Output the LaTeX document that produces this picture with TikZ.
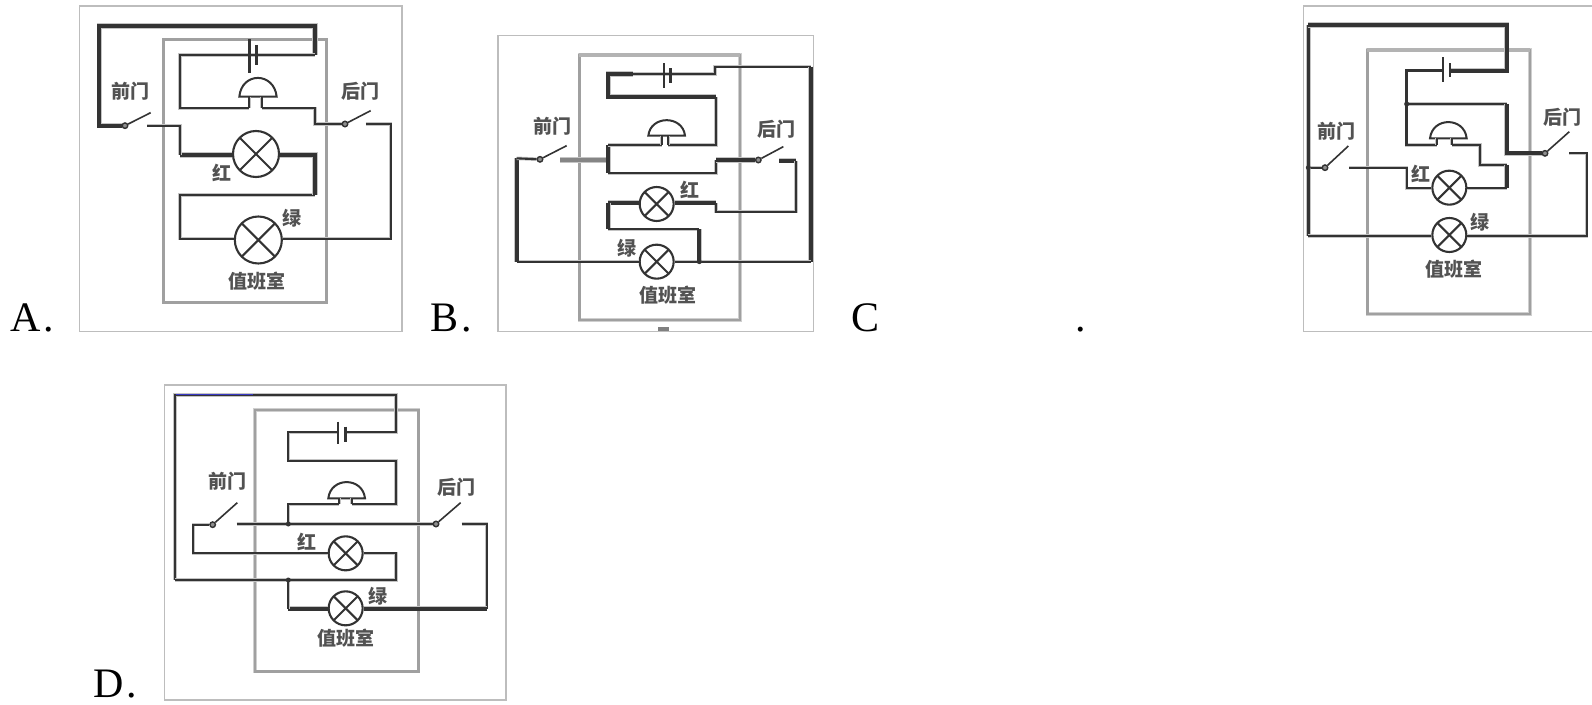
\documentclass[tikz,border=0pt]{standalone}
\usepackage{fontspec}
\setmainfont{Liberation Serif}
\newfontfamily\cjk{Noto Sans CJK SC}
\definecolor{ink}{HTML}{333333}
\definecolor{haze}{HTML}{C4C4C4}
\definecolor{roomc}{HTML}{A0A0A0}
\definecolor{framec}{HTML}{BDBDBD}
\tikzset{
  wire/.style={preaction={draw=haze,line width=3.6pt},draw=ink,line width=2.1pt,line join=miter},
  thick wire/.style={preaction={draw=haze,line width=5.4pt},draw=ink,line width=3.8pt,line join=miter},
  room/.style={preaction={draw=roomc!50,line width=3.6pt},draw=roomc,line width=2.4pt},
  frameb/.style={draw=framec,line width=1.1pt},
  blade/.style={draw=ink,line width=1.6pt},
  cell/.style={draw=ink,line width=2.6pt},
  dome/.style={draw=ink,line width=2pt,fill=white},
  pivot/.style={circle,draw=ink,fill=ink!55,line width=1.4pt,minimum size=5.5pt,inner sep=0pt},
  dot/.style={circle,fill=ink,minimum size=5pt,inner sep=0pt},
  biglamp/.style={lampbase,minimum size=46pt},
  smalllamp/.style={lampbase,minimum size=34pt},
  lampbase/.style={circle,draw=ink,line width=2.1pt,fill=white,inner sep=0pt,
    path picture={\draw[ink,line width=2.1pt]
      (path picture bounding box.north west)--(path picture bounding box.south east)
      (path picture bounding box.north east)--(path picture bounding box.south west);}},
  lab/.style={font=\cjk\bfseries\fontsize{19}{19}\selectfont,text=ink!85,inner sep=0pt},
  letter/.style={font=\fontsize{42}{42}\selectfont,text=black,inner sep=0pt,anchor=base west},
  panel/.style={x=0.33333pt,y=-0.33333pt}
}
\begin{document}
\begin{tikzpicture}[x=1pt,y=-1pt]
\useasboundingbox (0,0) rectangle (1592,704);
\fill[white] (0,0) rectangle (1592,704);
\node[letter] (la) at (10,331) {A\kern3pt.};
\node[letter] (lb) at (430,331) {B\kern3pt.};
\node[letter] (lc) at (851,331) {C};
\node[letter] (lcd) at (1075,331) {.};
\node[letter] (ld) at (93,697) {D\kern3pt.};

% ---------- A
\begin{scope}[shift={(0pt,0pt)},panel]
\draw[frameb] (238,18) rectangle (1206,995);
\draw[room] (490,118) rectangle (980,908);
\node[biglamp] (Ar) at (768,462) {};
\node[biglamp,minimum size=47pt] (Ag) at (775,720) {};
\node[pivot] (Asl) at (375,377) {};
\node[pivot] (Asr) at (1035,372) {};
\coordinate (Acl) at (442,377);
\coordinate (Acr) at (1098,372);
\coordinate (Ap1) at (748,325);
\coordinate (Ap2) at (785,325);
\draw[thick wire] (Asl) -- (298,377) -- (298,78) -- (945,78) -- (945,165);
\draw[wire] (945,165) -- (540,165) -- (540,325) -- (Ap1);
\draw[wire] (Ap2) -- (945,325) -- (945,372) -- (Asr);
\draw[wire] (Acr) -- (1172,372) -- (1172,716) -- (Ag.east |- 0,716);
\draw[wire] (Ag.west |- 0,716) -- (540,716) -- (540,585) -- (945,585);
\draw[thick wire] (945,585) -- (945,465) -- (Ar.east |- 0,465);
\draw[thick wire] (Ar.west |- 0,465) -- (540,465);
\draw[wire] (540,465) -- (540,377) -- (Acl);
\draw[blade] (Asl) -- (452,338);
\draw[blade] (Asr) -- (1112,332);
\draw[cell] (748,118) -- (748,220);
\draw[cell] (770,135) -- (770,195);
\draw[dome] (718,290) .. controls (725,215) and (822,215) .. (830,290) -- cycle;
\draw[wire] (Ap1) -- (748,290) (Ap2) -- (785,290);
\node[lab] (Af) at (392,275) {前门};
\node[lab] (Ab) at (1082,275) {后门};
\node[lab] (Are) at (665,520) {红};
\node[lab] (Agr) at (875,655) {绿};
\node[lab] (Aw) at (770,843) {值班室};
\end{scope}

% ---------- B
\begin{scope}[shift={(420pt,-20pt)},panel]
\draw[frameb] (234,47) rectangle (1180,935);
\draw[room] (478,105) rectangle (960,900);
\draw[roomc!80,line width=4pt] (478,105) -- (960,105);
\fill[roomc!80!black] (715,922) rectangle (747,932);
\node[smalllamp] (Br) at (710,552) {};
\node[smalllamp] (Bg) at (710,725) {};
\node[pivot] (Bsl) at (360,418) {};
\node[pivot] (Bsr) at (1015,420) {};
\coordinate (Bcl) at (420,420);
\coordinate (Bcr) at (1078,422);
\coordinate (Bp1) at (725,375);
\coordinate (Bp2) at (745,375);
\draw[wire] (565,162) -- (885,162) -- (885,140) -- (1172,140);
\draw[thick wire] (1172,140) -- (1172,725);
\draw[wire] (1172,725) -- (Bg.east |- 0,725);
\draw[wire] (Bg.west |- 0,725) -- (290,725);
\draw[thick wire] (290,725) -- (290,415);
\draw[wire] (290,415) -- (Bsl);
\draw[thick wire,draw=ink!60] (Bcl) -- (565,420);
\draw[thick wire] (565,375) -- (565,460);
\draw[wire] (565,375) -- (Bp1);
\draw[wire] (Bp2) -- (888,375) -- (888,230);
\draw[thick wire] (888,230) -- (565,230) -- (565,162) -- (640,162);
\draw[wire] (565,460) -- (888,460) -- (888,420);
\draw[thick wire] (888,420) -- (Bsr);
\draw[thick wire] (Bcr) -- (1128,422);
\draw[wire] (1128,422) -- (1128,575) -- (888,575) -- (888,548);
\draw[thick wire] (888,548) -- (Br.east |- 0,548);
\draw[thick wire] (Br.west |- 0,548) -- (565,548);
\draw[thick wire] (565,548) -- (565,628);
\draw[wire] (565,628) -- (838,628);
\draw[thick wire] (838,628) -- (838,725);
\node[dot] (Bd) at (838,725) {};
\draw[blade] (Bsl) -- (440,377);
\draw[blade] (Bsr) -- (1090,380);
\draw[cell,line width=1.8pt] (733,130) -- (733,205);
\draw[cell] (752,145) -- (752,190);
\draw[dome] (685,347) .. controls (692,285) and (788,285) .. (795,347) -- cycle;
\draw[wire] (Bp1) -- (725,347) (Bp2) -- (745,347);
\node[lab] (Bf) at (398,318) {前门};
\node[lab] (Bb) at (1068,328) {后门};
\node[lab] (Bre) at (810,510) {红};
\node[lab] (Bgr) at (622,685) {绿};
\node[lab] (Bw) at (745,825) {值班室};
\end{scope}

% ---------- C
\begin{scope}[shift={(1280pt,0pt)},panel]
\draw[frameb] (936,18) -- (70,18) -- (70,995) -- (936,995);
\draw[room] (262,150) rectangle (750,942);
\draw[roomc!80,line width=4pt] (262,150) -- (750,150);
\node[smalllamp] (Cr) at (508,563) {};
\node[smalllamp] (Cg) at (508,705) {};
\node[pivot] (Csl) at (135,503) {};
\node[pivot] (Csr) at (795,460) {};
\coordinate (Ccl) at (208,503);
\coordinate (Ccr) at (868,460);
\coordinate (Cp1) at (470,435);
\coordinate (Cp2) at (515,435);
\draw[wire] (85,503) -- (Csl);
\draw[thick wire,line width=3pt] (85,708) -- (85,75);
\draw[thick wire] (85,75) -- (680,75) -- (680,212) -- (510,212);
\draw[wire,line width=2.6pt] (490,212) -- (380,212) -- (380,435) -- (Cp1);
\draw[wire] (Cp2) -- (600,435) -- (600,495) -- (680,495);
\draw[thick wire] (680,495) -- (680,565);
\draw[wire] (680,565) -- (Cr.east |- 0,565);
\draw[wire] (Cr.west |- 0,565) -- (380,565) -- (380,503) -- (Ccl);
\draw[wire] (380,312) -- (680,312);
\draw[thick wire] (680,312) -- (680,460) -- (Csr);
\draw[wire] (Ccr) -- (920,460) -- (920,708) -- (Cg.east |- 0,708);
\draw[wire,line width=2.6pt] (Cg.west |- 0,708) -- (85,708);
\node[dot] (Cd1) at (380,312) {};
\node[dot] (Cd2) at (85,503) {};
\draw[blade] (Csl) -- (205,438);
\draw[blade] (Csr) -- (868,395);
\draw[cell,line width=1.8pt] (490,172) -- (490,245);
\draw[cell,line width=1.8pt] (510,190) -- (510,232);
\draw[dome] (450,415) .. controls (457,350) and (553,350) .. (560,415) -- cycle;
\draw[wire] (Cp1) -- (470,415) (Cp2) -- (515,415);
\node[lab] (Cf) at (168,395) {前门};
\node[lab] (Cb) at (848,352) {后门};
\node[lab] (Cre) at (422,522) {红};
\node[lab] (Cgr) at (600,668) {绿};
\node[lab] (Cw) at (522,808) {值班室};
\end{scope}

% ---------- D
\begin{scope}[shift={(80pt,-370pt)},panel]
\draw[frameb] (254,45) rectangle (1278,990);
\draw[room] (525,120) rectangle (1015,905);
\node[smalllamp] (Dr) at (797,550) {};
\node[smalllamp] (Dg) at (797,715) {};
\node[pivot] (Dsl) at (398,464) {};
\node[pivot] (Dsr) at (1068,462) {};
\coordinate (Dcl) at (470,462);
\coordinate (Dcr) at (1145,462);
\coordinate (Dp1) at (778,403);
\coordinate (Dp2) at (815,403);
\draw[wire] (285,630) -- (285,75) -- (948,75) -- (948,187) -- (797,187);
\draw[draw=blue!55!gray,line width=1.4pt] (287,73) -- (520,73);
\draw[wire] (775,187) -- (625,187) -- (625,272) -- (948,272) -- (948,403) -- (Dp2);
\draw[wire] (Dp1) -- (625,403) -- (625,462);
\draw[wire] (Dcl) -- (Dsr);
\draw[wire] (Dcr) -- (1220,462) -- (1220,716);
\draw[thick wire] (1220,716) -- (Dg.east |- 0,716);
\draw[thick wire] (Dg.west |- 0,716) -- (625,716);
\draw[wire] (625,716) -- (625,630);
\draw[wire] (285,630) -- (948,630) -- (948,550) -- (Dr.east |- 0,550);
\draw[wire] (Dr.west |- 0,550) -- (340,550) -- (340,464) -- (Dsl);
\node[dot] (Dd1) at (625,462) {};
\node[dot] (Dd2) at (625,630) {};
\draw[blade] (Dsl) -- (472,398);
\draw[blade] (Dsr) -- (1142,398);
\draw[cell,line width=1.8pt] (775,155) -- (775,222);
\draw[cell] (797,170) -- (797,215);
\draw[dome] (745,385) .. controls (752,320) and (848,320) .. (855,385) -- cycle;
\draw[wire] (Dp1) -- (778,385) (Dp2) -- (815,385);
\node[lab] (Df) at (442,335) {前门};
\node[lab] (Db) at (1128,352) {后门};
\node[lab] (Dre) at (680,515) {红};
\node[lab] (Dgr) at (895,678) {绿};
\node[lab] (Dw) at (797,805) {值班室};
\end{scope}
\end{tikzpicture}
\end{document}
